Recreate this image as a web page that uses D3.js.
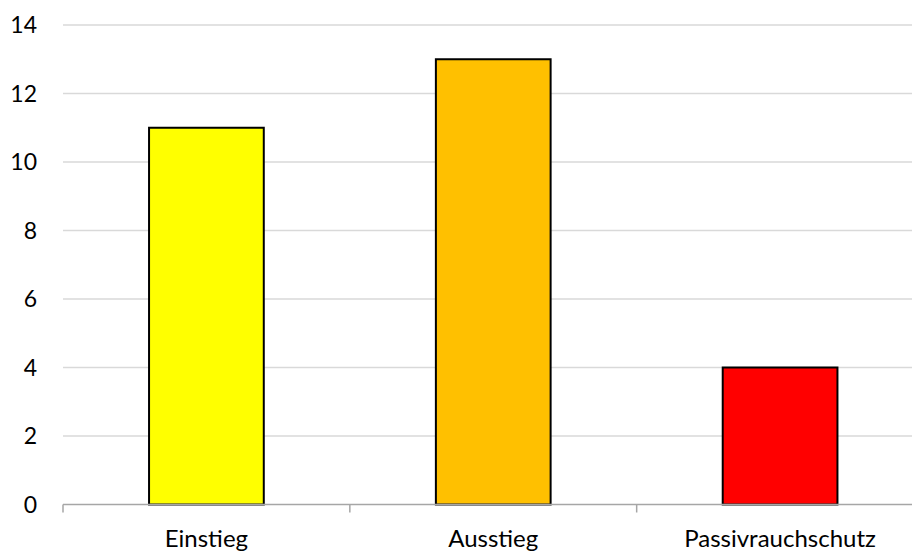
<!DOCTYPE html>
<html><head><meta charset="utf-8">
<script src="https://cdn.jsdelivr.net/npm/d3@7"></script>
<style>body{margin:0;background:#fff;} svg{display:block;font-family:Lato, "Open Sans", sans-serif;}</style>
</head><body>
<svg id="c" width="912" height="551"></svg>
<script>
const categories = ["Einstieg", "Ausstieg", "Passivrauchschutz"];
const values = [11, 13, 4];
const colors = ["#FFFF00", "#FFC000", "#FF0000"];
const yTicks = [0, 2, 4, 6, 8, 10, 12, 14];

const svg = d3.select("#c");
const x = d3.scaleBand().domain(categories).range([63, 923.5]).paddingInner(0.6).paddingOuter(0.3);
const y = d3.scaleLinear().domain([0, 14]).range([504.5, 25]);

// gridlines
svg.append("g").selectAll("line").data(yTicks.filter(d => d > 0)).join("line")
  .attr("x1", 63).attr("x2", 912)
  .attr("y1", d => y(d)).attr("y2", d => y(d))
  .attr("stroke", "#d9d9d9").attr("stroke-width", 1.5);

// y labels
svg.append("g").selectAll("text").data(yTicks).join("text")
  .attr("x", 37).attr("y", d => y(d)).attr("dy", "0.36em")
  .attr("text-anchor", "end").attr("font-size", 23).attr("fill", "#000")
  .text(d => d);

// bars
svg.append("g").selectAll("rect").data(values).join("rect")
  .attr("x", (d, i) => x(categories[i]))
  .attr("width", x.bandwidth())
  .attr("y", d => y(d))
  .attr("height", d => y(0) - y(d))
  .attr("fill", (d, i) => colors[i])
  .attr("stroke", "#000").attr("stroke-width", 2);

// x axis
const ticksX = d3.range(categories.length + 1).map(i => 63 + i * (923.5 - 63) / categories.length);
svg.append("line").attr("x1", 63).attr("x2", 912).attr("y1", y(0)).attr("y2", y(0))
  .attr("stroke", "#a6a6a6").attr("stroke-width", 1.5);
svg.append("g").selectAll("line").data(ticksX).join("line")
  .attr("x1", d => d).attr("x2", d => d).attr("y1", y(0)).attr("y2", y(0) + 8)
  .attr("stroke", "#a6a6a6").attr("stroke-width", 1.5);
svg.append("g").selectAll("text").data(categories).join("text")
  .attr("x", d => x(d) + x.bandwidth() / 2).attr("y", 547)
  .attr("text-anchor", "middle").attr("font-size", 24).attr("fill", "#000")
  .text(d => d);
</script>
</body></html>
